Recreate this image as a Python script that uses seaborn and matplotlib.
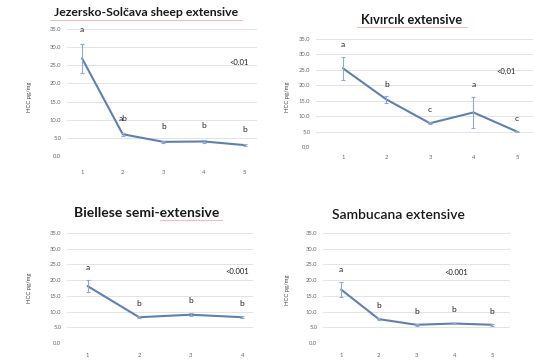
import numpy as np
import seaborn as sns
import matplotlib.pyplot as plt

# HCC (pg/mg) per sampling time, four breed/system panels
jez_time = [1, 2, 3, 4, 5]
jez_mean = [26.9, 6.0, 3.9, 4.0, 3.0]
jez_err = [4.1, 0.4, 0.3, 0.3, 0.3]
jez_letters = ["a", "ab", "b", "b", "b"]

kiv_time = [1, 2, 3, 4, 5]
kiv_mean = [25.5, 15.4, 7.7, 11.2, 5.0]
kiv_err = [3.8, 1.0, 0.4, 5.1, 0.3]
kiv_letters = ["a", "b", "c", "a", "c"]

bie_time = [1, 2, 3, 4]
bie_mean = [18.1, 8.2, 9.0, 8.2]
bie_err = [2.0, 0.4, 0.5, 0.4]
bie_letters = ["a", "b", "b", "b"]

sam_time = [1, 2, 3, 4, 5]
sam_mean = [17.0, 7.6, 5.8, 6.2, 5.8]
sam_err = [2.3, 0.4, 0.3, 0.3, 0.3]
sam_letters = ["a", "b", "b", "b", "b"]

y_ticks = [0, 5, 10, 15, 20, 25, 30, 35]

W, H = 533, 362
LINE = "#6080b0"
ERR = "#8fa9d6"

sns.set_style("white")
plt.rcParams["font.family"] = ["Lato", "DejaVu Sans"]

fig = plt.figure(figsize=(W / 100, H / 100), dpi=100)


def pixel_axes(left, top, right, bottom):
    """Add axes from pixel box (image coords, y down)."""
    return fig.add_axes([left / W, 1 - bottom / H, (right - left) / W, (bottom - top) / H])


def draw_panel(ax, x, mean, err, letters, pval, pxy, xlim, xpad):
    sns.lineplot(x=x, y=mean, ax=ax, color=LINE, linewidth=1.5)
    ax.errorbar(x, mean, yerr=err, fmt="none", ecolor=ERR, elinewidth=0.8,
                capsize=1.5, capthick=0.8)
    for xi, m, e, lab in zip(x, mean, err, letters):
        ax.text(xi, m + e + 4, lab, ha="center", va="center", fontsize=6,
                color="#222222")
    ax.text(pxy[0], pxy[1], pval, ha="center", va="center", fontsize=5.5,
            color="#222222")
    ax.set_xlim(*xlim)
    ax.set_ylim(0, 35)
    ax.set_xticks(x)
    ax.set_xticklabels([str(v) for v in x])
    ax.set_yticks(y_ticks)
    ax.set_yticklabels([f"{v:.1f}" for v in y_ticks])
    ax.grid(True, axis="y", color="#e3e3e3", linewidth=0.7)
    ax.set_axisbelow(True)
    for s in ax.spines.values():
        s.set_visible(False)
    ax.tick_params(axis="both", length=0, labelsize=4.2, labelcolor="#666666")
    ax.tick_params(axis="x", pad=xpad)
    ax.tick_params(axis="y", pad=4)
    ax.set_xlabel("")
    ax.set_ylabel("")


ax1 = pixel_axes(67, 29, 257, 156)
draw_panel(ax1, jez_time, jez_mean, jez_err, jez_letters, "<0.01", (4.85, 25.9), (0.63, 5.3), 10)
ax2 = pixel_axes(316, 39, 533, 147)
draw_panel(ax2, kiv_time, kiv_mean, kiv_err, kiv_letters, "<0,01", (4.75, 24.5), (0.38, 5.37), 6)
ax3 = pixel_axes(67, 233, 253, 343)
draw_panel(ax3, bie_time, bie_mean, bie_err, bie_letters, "<0.001", (3.9, 22.8), (0.6, 4.21), 7)
ax4 = pixel_axes(323, 233, 510, 343)
draw_panel(ax4, sam_time, sam_mean, sam_err, sam_letters, "<0.001", (4.05, 22.3), (0.52, 5.48), 7)

titles = [
    ("Jezersko-Solčava sheep extensive", 146, 13, 8.8, "bold"),
    ("Kıvırcık extensive", 412, 20, 9.2, "bold"),
    ("Biellese semi-extensive", 147, 213, 10, "bold"),
    ("Sambucana extensive", 398, 215, 10, "semibold"),
]
for text, px, py, fs, fw in titles:
    fig.text(px / W, 1 - py / H, text, ha="center", va="center", fontsize=fs,
             fontweight=fw, color="#1a1a1a")

# faint spell-check underlines seen in the source image
for x0, x1, py in [(50, 242, 20), (357, 467, 27), (160, 222, 220)]:
    fig.add_artist(plt.Line2D([x0 / W, x1 / W], [1 - py / H, 1 - py / H],
                              color="#f2a0a0", linewidth=0.8, alpha=0.7))

for px, py in [(30, 97), (288, 97), (30, 288), (288, 290)]:
    fig.text(px / W, 1 - py / H, "HCC pg/mg", rotation=90, ha="center",
             va="center", fontsize=4.2, color="#444444")

fig.savefig("out.png", dpi=100, facecolor="white")
